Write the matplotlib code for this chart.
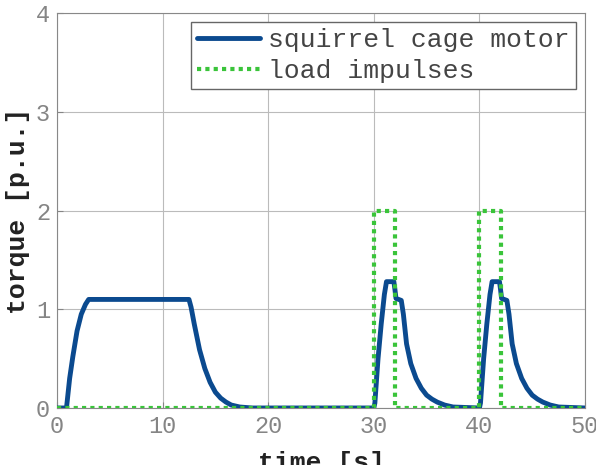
import matplotlib.pyplot as plt

# motor torque
motor_t = [0, 0.9, 1.2, 1.5, 1.9, 2.3, 2.7, 3.0, 12.5, 12.7, 13.0, 13.5, 14.0, 14.5,
           15.0, 15.5, 16.0, 16.5, 17.3, 18.5, 30.0, 30.1, 30.4, 30.7, 31.0, 31.2,
           31.9, 32.0, 32.1, 32.6, 32.8, 33.1, 33.5, 34.0, 34.5, 35.0, 35.5, 36.0,
           36.7, 37.5, 40.0, 40.1, 40.4, 40.7, 41.0, 41.2, 41.9, 42.0, 42.1, 42.6,
           42.8, 43.1, 43.5, 44.0, 44.5, 45.0, 45.5, 46.0, 46.7, 47.5, 50.0]
motor_T = [0, 0, 0.3, 0.52, 0.78, 0.95, 1.05, 1.1, 1.1, 1.02, 0.85, 0.59, 0.4, 0.26,
           0.16, 0.1, 0.06, 0.03, 0.01, 0, 0, 0.05, 0.5, 0.85, 1.15, 1.28,
           1.28, 1.2, 1.11, 1.09, 0.95, 0.65, 0.45, 0.3, 0.2, 0.13, 0.09, 0.06,
           0.03, 0.01, 0, 0.05, 0.5, 0.85, 1.15, 1.28,
           1.28, 1.2, 1.11, 1.09, 0.95, 0.65, 0.45, 0.3, 0.2, 0.13, 0.09, 0.06,
           0.03, 0.01, 0]

# load impulses
load_t = [0, 30.0, 30.0, 32.0, 32.0, 40.0, 40.0, 42.0, 42.0, 50.0]
load_T = [0, 0, 2, 2, 0, 0, 2, 2, 0, 0]

mono = 'Liberation Mono'
grey = '#858585'

fig = plt.figure(figsize=(5.96, 4.65), dpi=100)
ax = fig.add_axes([0.0956, 0.1226, 0.886, 0.849])

ax.plot(motor_t, motor_T, color='#0b4a8f', linewidth=3.5, label='squirrel cage motor',
        solid_capstyle='round', solid_joinstyle='round', zorder=3)
ax.plot(load_t, load_T, color='#3ac43a', linewidth=3, linestyle=(0, (1, 1)),
        label='load impulses', zorder=4)

ax.set_xlim(0, 50)
ax.set_ylim(0, 4)
ax.set_xticks([0, 10, 20, 30, 40, 50])
ax.set_yticks([0, 1, 2, 3, 4])
ax.grid(True, color='#bbbbbb', linewidth=0.8)
ax.tick_params(direction='in', length=4, colors=grey, labelsize=17, pad=5)
for lab in ax.get_xticklabels() + ax.get_yticklabels():
    lab.set_fontfamily(mono)
for s in ax.spines.values():
    s.set_color('#888888')

ax.set_xlabel('time [s]', fontfamily=mono, fontweight='bold', fontsize=19, va='top',
              color='#222222')
ax.xaxis.set_label_coords(0.5, -0.108)
ax.set_ylabel('torque [p.u.]', fontfamily=mono, fontweight='bold', fontsize=19,
              va='center', color='#222222')
ax.yaxis.set_label_coords(-0.074, 0.5)

leg = ax.legend(loc='upper right', prop={'family': mono, 'size': 19}, fancybox=False,
                edgecolor='#666666', handlelength=2.4, borderpad=0.22, labelspacing=0.25,
                handletextpad=0.3, borderaxespad=0.35, framealpha=1)
leg.get_frame().set_linewidth(1.0)
for t in leg.get_texts():
    t.set_color('#444444')

plt.savefig('out.png', dpi=100)
